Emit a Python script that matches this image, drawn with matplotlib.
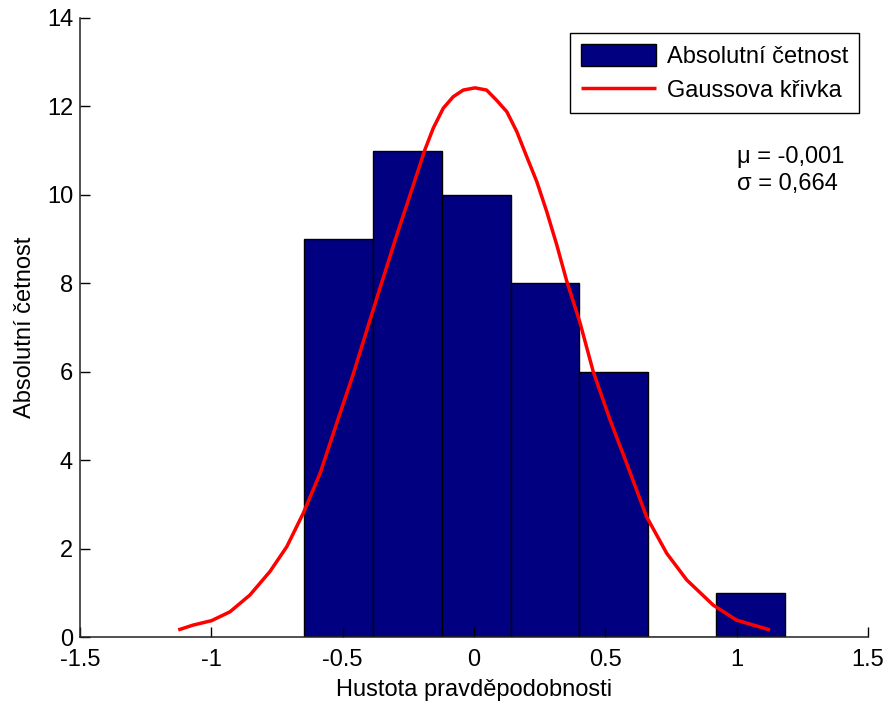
import matplotlib
matplotlib.use("Agg")
import matplotlib.pyplot as plt

plt.rcParams['font.family'] = ['Liberation Sans', 'DejaVu Sans']

# histogram (bin centres)
bin_centers = [-0.516, -0.254, 0.009, 0.270, 0.531, 0.792, 1.053]
counts = [9, 11, 10, 8, 6, 0, 1]

# gaussian curve, points
curve_x = [-1.126, -1.069, -0.999, -0.929, -0.853, -0.777, -0.713, -0.650, -0.586,
           -0.523, -0.459, -0.396, -0.358, -0.294, -0.231, -0.187, -0.155, -0.117,
           -0.079, -0.041, 0.004, 0.048, 0.086, 0.125, 0.163, 0.201, 0.239, 0.277,
           0.315, 0.353, 0.404, 0.454, 0.518, 0.581, 0.657, 0.734, 0.810, 0.911,
           1.000, 1.127]
curve_y = [0.16, 0.27, 0.37, 0.57, 0.95, 1.48, 2.04, 2.80, 3.70,
           4.83, 5.96, 7.17, 7.89, 9.09, 10.22, 11.02, 11.51, 11.96,
           12.22, 12.37, 12.42, 12.37, 12.14, 11.88, 11.43, 10.86, 10.30, 9.62,
           8.87, 8.05, 7.10, 6.00, 4.91, 3.93, 2.72, 1.89, 1.29, 0.72,
           0.38, 0.16]

mu_text = "\u03bc = -0,001"
sigma_text = "\u03c3 = 0,664"
xticks = [-1.5, -1, -0.5, 0, 0.5, 1, 1.5]
xticklabels = ["-1.5", "-1", "-0.5", "0", "0.5", "1", "1.5"]
yticks = [0, 2, 4, 6, 8, 10, 12, 14]

fs = 17

fig = plt.figure(figsize=(8.84, 7.02), dpi=100)
ax = fig.add_axes([80/884, 1 - 637/702, 788/884, 619/702])

bars = ax.bar(bin_centers, counts, width=0.262, color='#000080', edgecolor='black',
              linewidth=1.0, label='Absolutní četnost')
line, = ax.plot(curve_x, curve_y, color='red', linewidth=2.5, solid_joinstyle='round',
                solid_capstyle='butt', label='Gaussova křivka')

ax.set_xlim(-1.5, 1.5)
ax.set_ylim(0, 14)
ax.set_xticks(xticks)
ax.set_xticklabels(xticklabels)
ax.set_yticks(yticks)
ax.tick_params(direction='in', length=7, width=1, labelsize=fs, colors='black')
ax.tick_params(axis='x', pad=8.5)
ax.tick_params(axis='y', pad=5)

for s in ['top', 'right']:
    ax.spines[s].set_visible(False)
for s in ['left', 'bottom']:
    ax.spines[s].set_linewidth(1.1)
    ax.spines[s].set_color('#222222')

ax.set_xlabel('Hustota pravděpodobnosti', fontsize=fs, labelpad=6)
ax.set_ylabel('Absolutní četnost', fontsize=fs, labelpad=8)

ax.text(1.0, 10.56, mu_text + "\n" + sigma_text, fontsize=fs, ha='left', va='center',
        linespacing=1.3)

leg = ax.legend([bars, line], ['Absolutní četnost', 'Gaussova křivka'],
                loc='upper right', bbox_to_anchor=(0.9886, 0.9758), borderaxespad=0,
                fontsize=fs, frameon=True, fancybox=False, edgecolor='black',
                framealpha=1, handlelength=3.2, handleheight=1.1, borderpad=0.45,
                labelspacing=0.42, handletextpad=0.45)
leg.get_frame().set_linewidth(1.0)

fig.savefig('out.png', dpi=100)
